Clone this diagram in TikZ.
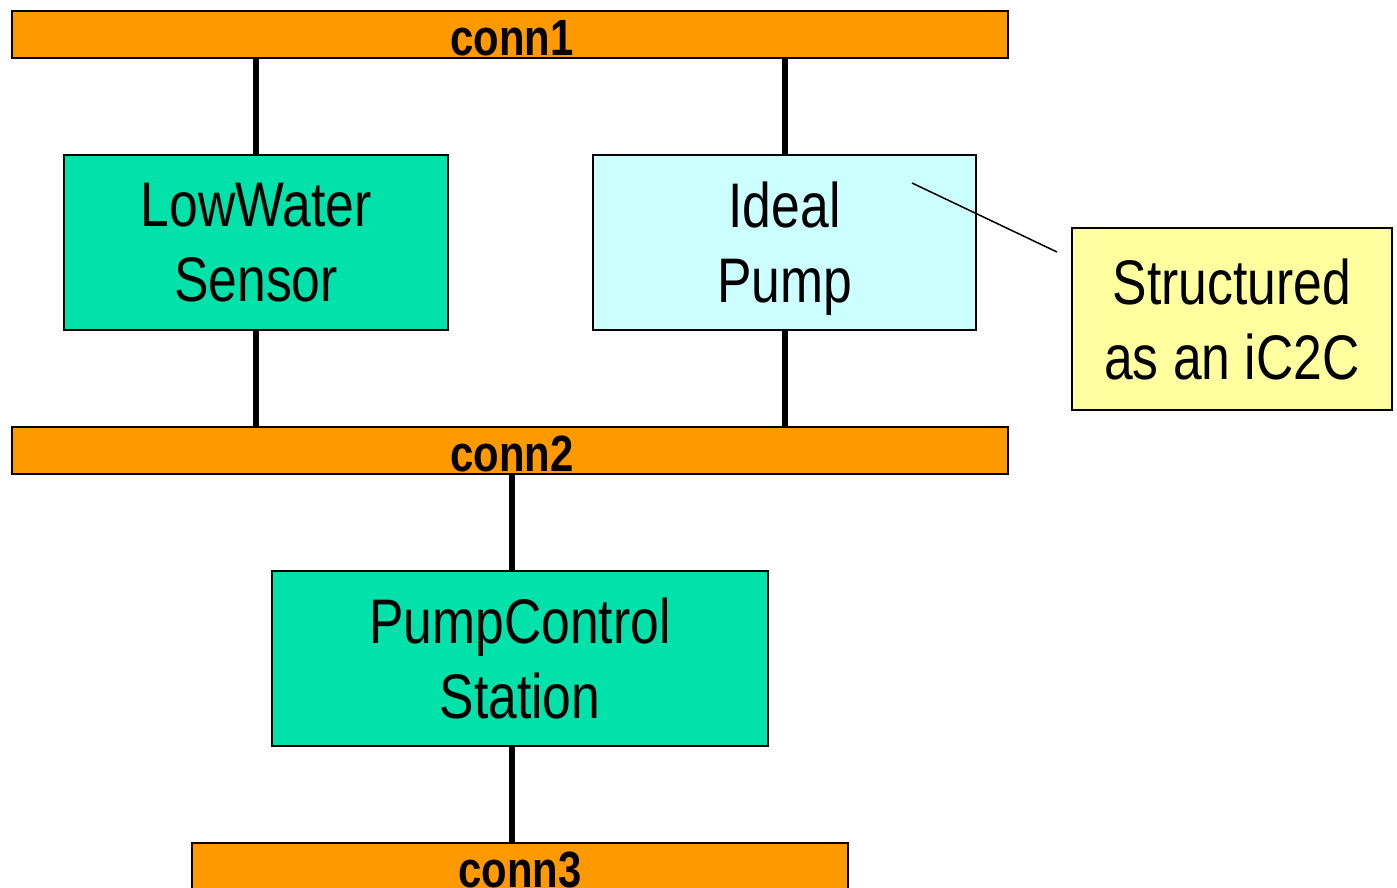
\documentclass[tikz,border=0pt]{standalone}
\usepackage{fontspec}
\setmainfont[FakeStretch=0.82]{Liberation Sans}
\definecolor{barorange}{RGB}{255,153,0}
\definecolor{boxgreen}{RGB}{0,226,170}
\definecolor{boxcyan}{RGB}{204,255,255}
\definecolor{noteyellow}{RGB}{255,255,160}
\begin{document}
\begin{tikzpicture}[x=1pt,y=-1pt,
  bar/.style={draw=black, line width=1.5pt, fill=barorange, inner sep=0pt,
    minimum height=47pt, text height=44pt, text depth=3pt,
    font=\fontsize{51}{60}\selectfont\bfseries},
  comp/.style={draw=black, line width=1.5pt, inner sep=0pt, minimum height=175pt,
    align=center, text depth=0pt, font=\fontsize{63}{75}\selectfont},
  wire/.style={line width=6pt},
  callout/.style={line width=1.5pt}]
\useasboundingbox (0,0) rectangle (1397,887);
\node[bar, minimum width=996pt] (c1) at (510,34.5) {\hspace*{4pt}conn1};
\node[bar, minimum width=996pt] (c2) at (510,450.5) {\hspace*{4pt}conn2};
\node[bar, minimum width=656pt] (c3) at (520,866.5) {conn3};
\node[comp, fill=boxgreen, minimum width=384pt] (lw) at (256,242.5) {LowWater\\Sensor};
\node[comp, fill=boxcyan, minimum width=383pt] (ip) at (784.5,242.5) {Ideal\\Pump};
\node[comp, fill=boxgreen, minimum width=496pt] (pc) at (520,658.5) {PumpControl\\Station};
\node[comp, fill=noteyellow, minimum width=320pt, minimum height=182pt] (note) at (1232,319) {Structured\\as an iC2C};
\draw[wire] (c1.south -| lw.north) -- (lw.north);
\draw[wire] (lw.south) -- (lw.south |- c2.north);
\draw[wire] (c1.south -| ip.north) -- (ip.north);
\draw[wire] (ip.south) -- (ip.south |- c2.north);
\draw[wire] ([xshift=-8pt]pc.north |- c2.south) -- ([xshift=-8pt]pc.north);
\draw[wire] ([xshift=-8pt]pc.south) -- ([xshift=-8pt]pc.south |- c3.north);
\coordinate (cs) at (912,183);
\coordinate (ce) at (1057,252);
\draw[callout] (cs) -- (ce);
\end{tikzpicture}
\end{document}
